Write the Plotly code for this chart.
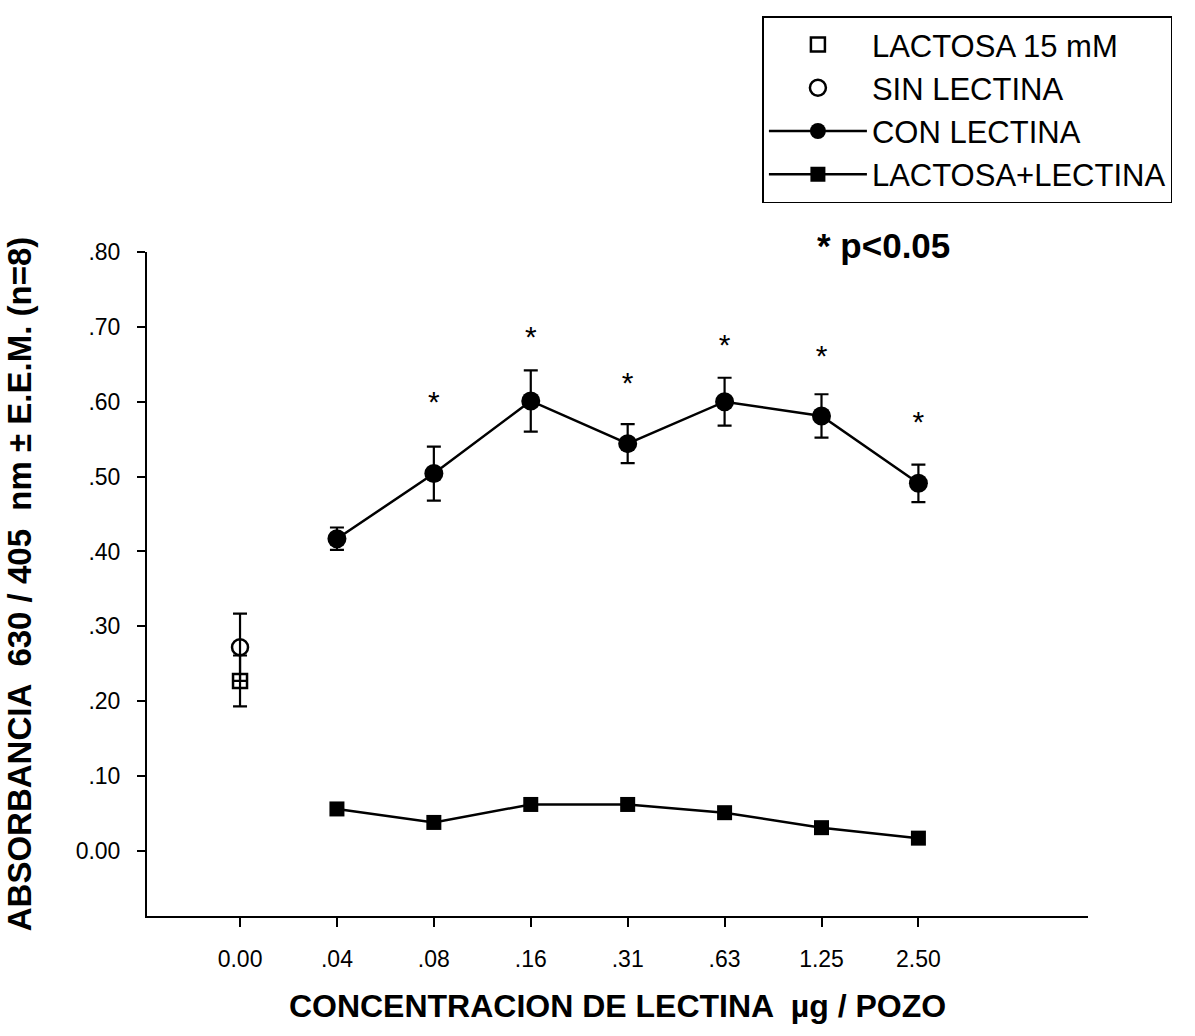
import plotly.graph_objects as go

# ---- data ----
conc_labels = ["0.00", ".04", ".08", ".16", ".31", ".63", "1.25", "2.50"]
conc_pos = [0, 1, 2, 3, 4, 5, 6, 7]

con_lectina_x = [1, 2, 3, 4, 5, 6, 7]
con_lectina = [0.417, 0.504, 0.601, 0.544, 0.600, 0.581, 0.491]
con_lectina_err = [0.015, 0.036, 0.041, 0.026, 0.032, 0.029, 0.025]

lact_lect_x = [1, 2, 3, 4, 5, 6, 7]
lact_lect = [0.056, 0.038, 0.062, 0.062, 0.051, 0.031, 0.017]

sin_lectina_x = [0]
sin_lectina = [0.272]
sin_lectina_err = [0.045]

lactosa_x = [0]
lactosa = [0.227]
lactosa_err = [0.034]

star_x = [2, 3, 4, 5, 6, 7]
star_y = [0.605, 0.692, 0.631, 0.681, 0.667, 0.579]

y_tickvals = [0.0, 0.1, 0.2, 0.3, 0.4, 0.5, 0.6, 0.7, 0.8]
y_ticktext = ["0.00", ".10", ".20", ".30", ".40", ".50", ".60", ".70", ".80"]

FONT = "Liberation Sans, Arial, sans-serif"
BLACK = "#000000"

fig = go.Figure()

fig.add_trace(go.Scatter(
    x=lactosa_x, y=lactosa, mode="markers", name="LACTOSA 15 mM",
    marker=dict(symbol="square-open", size=14, color=BLACK, line=dict(width=2.5, color=BLACK)),
    error_y=dict(type="data", array=lactosa_err, visible=True, color=BLACK, thickness=2.2, width=7),
))
fig.add_trace(go.Scatter(
    x=sin_lectina_x, y=sin_lectina, mode="markers", name="SIN LECTINA",
    marker=dict(symbol="circle-open", size=16, color=BLACK, line=dict(width=2.5, color=BLACK)),
    error_y=dict(type="data", array=sin_lectina_err, visible=True, color=BLACK, thickness=2.2, width=7),
))
fig.add_trace(go.Scatter(
    x=con_lectina_x, y=con_lectina, mode="lines+markers", name="CON LECTINA",
    line=dict(color=BLACK, width=2.5),
    marker=dict(symbol="circle", size=19, color=BLACK),
    error_y=dict(type="data", array=con_lectina_err, visible=True, color=BLACK, thickness=2.2, width=7),
))
fig.add_trace(go.Scatter(
    x=lact_lect_x, y=lact_lect, mode="lines+markers", name="LACTOSA+LECTINA",
    line=dict(color=BLACK, width=2.5),
    marker=dict(symbol="square", size=15, color=BLACK),
))

# significance asterisks (text glyph sits ~0.23em above the anchor)
y_range = [-0.087, 0.80]
px_per_unit = (916 - 252) / (y_range[1] - y_range[0])
star_font = 30
offset = 0.23 * star_font / px_per_unit
fig.add_trace(go.Scatter(
    x=star_x, y=[v - offset for v in star_y], mode="text", text=["*"] * len(star_x),
    textposition="middle center", showlegend=False, hoverinfo="skip",
    textfont=dict(family=FONT, size=star_font, color=BLACK),
))

fig.update_layout(
    width=1195, height=1036,
    margin=dict(l=147, r=107, t=252, b=120),
    paper_bgcolor="white", plot_bgcolor="white",
    font=dict(family=FONT, color=BLACK),
    showlegend=True,
    legend=dict(
        x=0.654, y=1.355, xanchor="left", yanchor="top",
        bgcolor="white", bordercolor=BLACK, borderwidth=1.5,
        font=dict(family=FONT, size=31, color=BLACK),
        itemwidth=98, tracegroupgap=0,
    ),
    xaxis=dict(
        range=[-0.96, 8.75], tickmode="array", tickvals=conc_pos, ticktext=conc_labels,
        showline=True, linecolor=BLACK, linewidth=2, ticks="outside", ticklen=9,
        tickwidth=1.5, tickcolor=BLACK, showgrid=False, zeroline=False,
        tickfont=dict(family=FONT, size=23, color=BLACK), ticklabelstandoff=12,
        title=dict(text="<b>CONCENTRACION DE LECTINA  µg / POZO</b>",
                   font=dict(family=FONT, size=32, color=BLACK), standoff=24),
    ),
    yaxis=dict(
        range=y_range, tickmode="array", tickvals=y_tickvals, ticktext=y_ticktext,
        showline=True, linecolor=BLACK, linewidth=2, ticks="outside", ticklen=8,
        tickwidth=1.5, tickcolor=BLACK, showgrid=False, zeroline=False,
        tickfont=dict(family=FONT, size=23, color=BLACK), ticklabelstandoff=12,
        title=dict(text="<b>ABSORBANCIA  630 / 405  nm ± E.E.M. (n=8)</b>",
                   font=dict(family=FONT, size=33, color=BLACK), standoff=34),
    ),
    annotations=[dict(
        text="<b>* p<0.05</b>", xref="paper", yref="paper",
        x=(883 - 147) / (1088 - 147), y=(916 - 245) / (916 - 252),
        xanchor="center", yanchor="middle", showarrow=False,
        font=dict(family=FONT, size=35, color=BLACK),
    )],
)

fig.write_html("out.html")
